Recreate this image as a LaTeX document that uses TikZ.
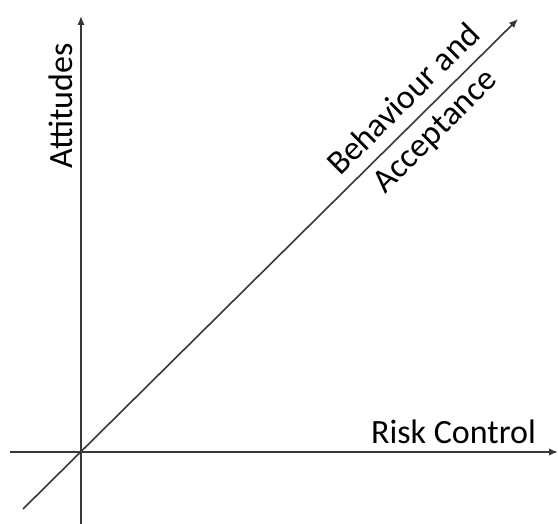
\documentclass[tikz,border=0pt]{standalone}
\usepackage{fontspec}
\setmainfont{Carlito}
\usetikzlibrary{arrows.meta}
\begin{document}
\begin{tikzpicture}[x=1pt, y=-1pt,
	axis/.style={draw=black!78, line width=1.6pt},
	tip/.style={-{Latex[length=9pt, width=7.5pt]}},
	lbl/.style={font=\fontsize{34}{44}\selectfont, inner sep=0pt}]
	\useasboundingbox (0,0) rectangle (558,524);

	% Axis ends
	\coordinate (origin) at (81,452);
	\coordinate (ybot) at (81,524);
	\coordinate (ytop) at (81,16);
	\coordinate (xleft) at (10,452);
	\coordinate (xright) at (558,452);
	\coordinate (dlow) at (23,509);
	\coordinate (dhigh) at (518,19);

	% Attitudes
	\draw[axis, tip] (ybot) -- (ytop);
	\node[lbl, rotate=90, anchor=base] (attitudes) at (72.5,106) {Attitudes};

	% Risk control
	\draw[axis, tip] (xleft) -- (xright);
	\node[lbl, anchor=base] (risk) at (453.5,443) {Risk Control};

	% Behaviour and acceptance
	\draw[axis, tip] (dlow) -- (dhigh);
	\node[lbl, rotate=44.7, align=center] (behaviour) at (420,116) {Behaviour and\\Acceptance};
\end{tikzpicture}
\end{document}
